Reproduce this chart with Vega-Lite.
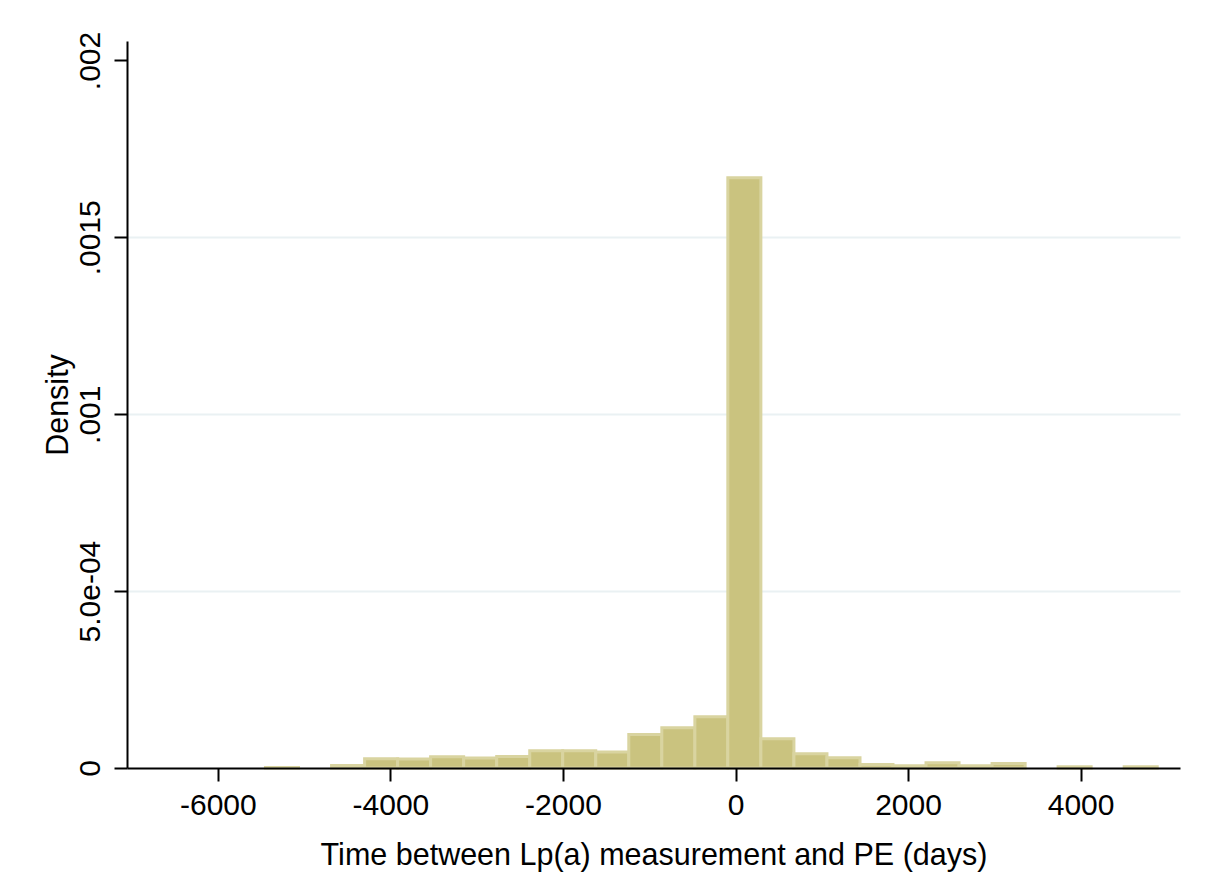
{
  "$schema": "https://vega.github.io/schema/vega-lite/v6.json",
  "width": 1053,
  "height": 727,
  "autosize": {"type": "none"},
  "padding": {"left": 127, "top": 41, "right": 28, "bottom": 110},
  "background": "white",
  "config": {
    "view": {"stroke": null},
    "font": "Liberation Sans",
    "axis": {
      "labelFont": "Liberation Sans",
      "titleFont": "Liberation Sans",
      "labelFontSize": 30,
      "titleFontSize": 30.5,
      "titleFontWeight": "normal",
      "labelColor": "#000000",
      "titleColor": "#000000",
      "domainColor": "#000000",
      "domainWidth": 2,
      "tickColor": "#000000",
      "tickWidth": 2,
      "tickSize": 13,
      "labelOverlap": false,
      "labelFlush": false,
      "labelBound": false
    }
  },
  "data": {
    "values": [
      {"bin_start": -5448, "bin_end": -5065, "density": 0.0000015},
      {"bin_start": -4682, "bin_end": -4299, "density": 0.0000071},
      {"bin_start": -4299, "bin_end": -3916, "density": 0.0000260},
      {"bin_start": -3916, "bin_end": -3534, "density": 0.0000252},
      {"bin_start": -3534, "bin_end": -3151, "density": 0.0000317},
      {"bin_start": -3151, "bin_end": -2768, "density": 0.0000280},
      {"bin_start": -2768, "bin_end": -2385, "density": 0.0000325},
      {"bin_start": -2385, "bin_end": -2003, "density": 0.0000487},
      {"bin_start": -2003, "bin_end": -1620, "density": 0.0000487},
      {"bin_start": -1620, "bin_end": -1237, "density": 0.0000450},
      {"bin_start": -1237, "bin_end": -854, "density": 0.0000947},
      {"bin_start": -854, "bin_end": -471, "density": 0.0001137},
      {"bin_start": -471, "bin_end": -89, "density": 0.0001448},
      {"bin_start": -89, "bin_end": 294, "density": 0.0016682},
      {"bin_start": 294, "bin_end": 677, "density": 0.0000826},
      {"bin_start": 677, "bin_end": 1060, "density": 0.0000402},
      {"bin_start": 1060, "bin_end": 1443, "density": 0.0000289},
      {"bin_start": 1443, "bin_end": 1825, "density": 0.0000099},
      {"bin_start": 1825, "bin_end": 2208, "density": 0.0000063},
      {"bin_start": 2208, "bin_end": 2591, "density": 0.0000147},
      {"bin_start": 2591, "bin_end": 2974, "density": 0.0000063},
      {"bin_start": 2974, "bin_end": 3357, "density": 0.0000128},
      {"bin_start": 3739, "bin_end": 4122, "density": 0.0000034},
      {"bin_start": 4505, "bin_end": 4888, "density": 0.0000034}
    ]
  },
  "mark": {"type": "bar", "orient": "vertical", "fill": "#cac37f", "stroke": "#d9d4a0", "strokeWidth": 3},
  "encoding": {
    "x": {
      "field": "bin_start",
      "type": "quantitative",
      "scale": {"domain": [-6995, 5094], "nice": false, "zero": false},
      "axis": {
        "title": "Time between Lp(a) measurement and PE (days)",
        "values": [-6000, -4000, -2000, 0, 2000, 4000],
        "labelExpr": "'' + datum.value",
        "labelPadding": 9,
        "grid": false,
        "zindex": 1,
        "titleBaseline": "alphabetic",
        "titleY": 96
      }
    },
    "x2": {"field": "bin_end"},
    "y": {
      "field": "density",
      "type": "quantitative",
      "scale": {"domain": [0, 0.002055], "nice": false},
      "axis": {
        "title": "Density",
        "values": [0, 0.0005, 0.001, 0.0015, 0.002],
        "labelExpr": "datum.value == 0 ? '0' : abs(datum.value - 0.0005) < 1e-9 ? '5.0e-04' : replace(format(datum.value, '.4~f'), '0.', '.')",
        "labelAngle": -90,
        "labelAlign": "center",
        "labelBaseline": "bottom",
        "labelPadding": 9,
        "grid": true,
        "gridWidth": 2,
        "gridColor": {"condition": {"test": "datum.value == 0 || datum.value >= 0.0019", "value": "transparent"}, "value": "#eaf1f3"},
        "zindex": 0,
        "titleAngle": -90,
        "titleBaseline": "alphabetic",
        "titleX": -60,
        "titleY": 363.5
      }
    },
    "y2": {"datum": 0}
  }
}
